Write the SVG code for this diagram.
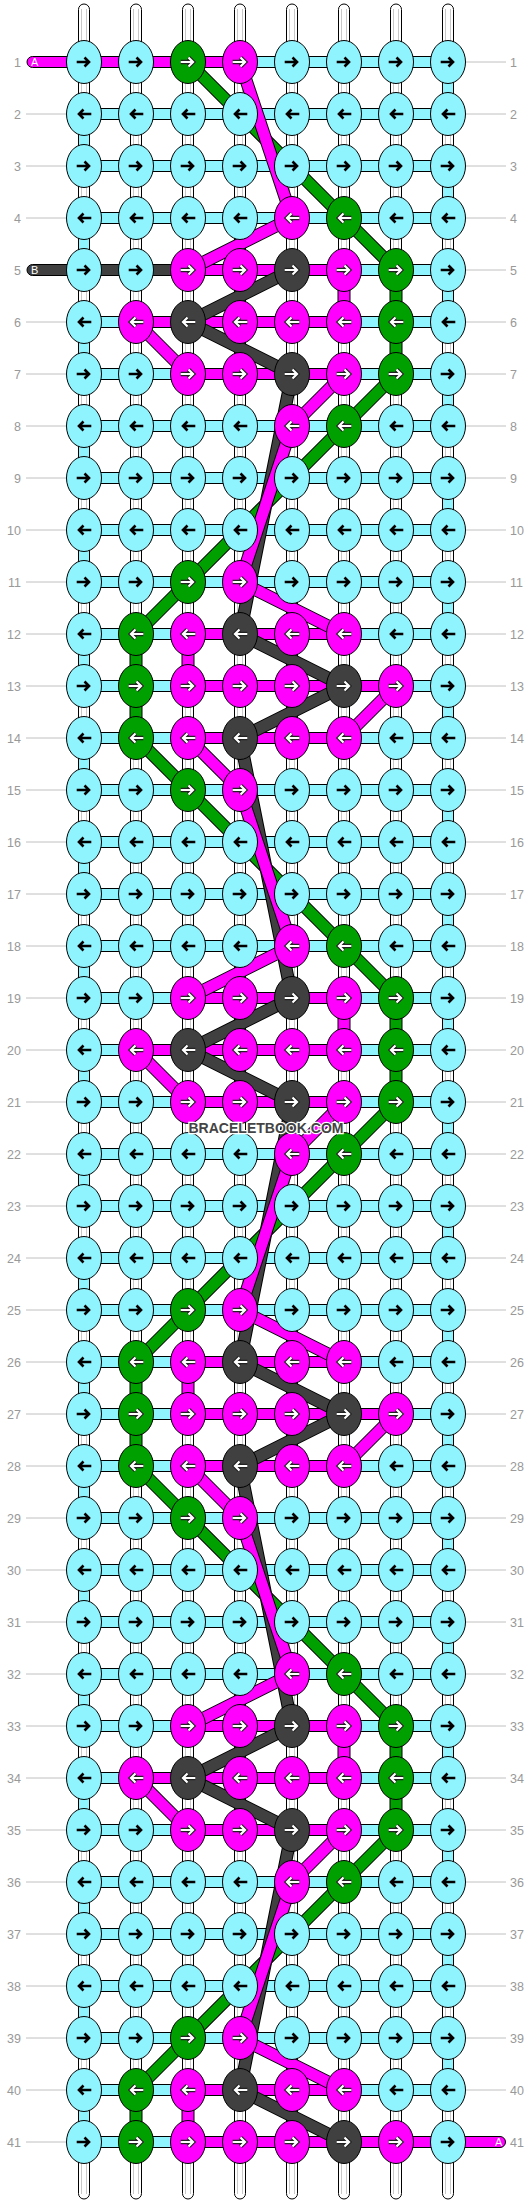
<svg xmlns="http://www.w3.org/2000/svg" width="532" height="2204" viewBox="0 0 532 2204">
<style>
.kc{fill:#90F4FE;stroke:#000;stroke-width:1}
.kg{fill:#00A000;stroke:#000;stroke-width:1}
.km{fill:#FF00FF;stroke:#000;stroke-width:1}
.kd{fill:#404040;stroke:#000;stroke-width:1}
.ab{fill:none;stroke:#000;stroke-width:2.6}
.ao{fill:none;stroke:#222;stroke-width:4.4}
.aw{fill:none;stroke:#fff;stroke-width:2.2}
.warp{fill:#fff;stroke:#000;stroke-width:1}
.wl{fill:none;stroke:#c8c8c8;stroke-width:1}
.hc{fill:#90F4FE;stroke:#000;stroke-width:1}
.hm{fill:#FF00FF;stroke:#000;stroke-width:1}
.hd{fill:#404040;stroke:#000;stroke-width:1}
.lo{fill:none;stroke:#000;stroke-width:13;stroke-linejoin:round}
.lg{fill:none;stroke:#00A000;stroke-width:11;stroke-linejoin:round}
.ld{fill:none;stroke:#404040;stroke-width:11;stroke-linejoin:round}
.lm{fill:none;stroke:#FF00FF;stroke-width:11;stroke-linejoin:round}
.gl{fill:none;stroke:#c0c0c0;stroke-width:1}
.nl{font-family:"Liberation Sans",Arial,sans-serif;font-size:12.5px;fill:#999}
.sl{font-family:"Liberation Sans",Arial,sans-serif;font-size:11px;fill:#fff}
.wm{font-family:"Liberation Sans",Arial,sans-serif;font-size:14.5px;font-weight:bold;fill:#444;stroke:#fff;stroke-width:2.5;paint-order:stroke}
</style>
<defs>
<g id="cR"><ellipse class="kc" rx="17.5" ry="21.5"/><path class="ab" d="M-7.3,0H5M0.5,-4.5L5,0L0.5,4.5"/></g>
<g id="cL"><ellipse class="kc" rx="17.5" ry="21.5"/><path class="ab" d="M7.3,0H-5M-0.5,-4.5L-5,0L-0.5,4.5"/></g>
<g id="gR"><ellipse class="kg" rx="17.5" ry="21.5"/><path class="ao" d="M-7.3,0H5M0.5,-4.5L5,0L0.5,4.5"/><path class="aw" d="M-7.3,0H5M0.5,-4.5L5,0L0.5,4.5"/></g>
<g id="gL"><ellipse class="kg" rx="17.5" ry="21.5"/><path class="ao" d="M7.3,0H-5M-0.5,-4.5L-5,0L-0.5,4.5"/><path class="aw" d="M7.3,0H-5M-0.5,-4.5L-5,0L-0.5,4.5"/></g>
<g id="mR"><ellipse class="km" rx="17.5" ry="21.5"/><path class="ao" d="M-7.3,0H5M0.5,-4.5L5,0L0.5,4.5"/><path class="aw" d="M-7.3,0H5M0.5,-4.5L5,0L0.5,4.5"/></g>
<g id="mL"><ellipse class="km" rx="17.5" ry="21.5"/><path class="ao" d="M7.3,0H-5M-0.5,-4.5L-5,0L-0.5,4.5"/><path class="aw" d="M7.3,0H-5M-0.5,-4.5L-5,0L-0.5,4.5"/></g>
<g id="dR"><ellipse class="kd" rx="17.5" ry="21.5"/><path class="ao" d="M-7.3,0H5M0.5,-4.5L5,0L0.5,4.5"/><path class="aw" d="M-7.3,0H5M0.5,-4.5L5,0L0.5,4.5"/></g>
<g id="dL"><ellipse class="kd" rx="17.5" ry="21.5"/><path class="ao" d="M7.3,0H-5M-0.5,-4.5L-5,0L-0.5,4.5"/><path class="aw" d="M7.3,0H-5M-0.5,-4.5L-5,0L-0.5,4.5"/></g>
</defs>
<rect width="532" height="2204" fill="#fff"/>
<g id="labels">
<path class="gl" d="M26,114H67M26,166H67M26,218H67M26,322H67M26,374H67M26,426H67M26,478H67M26,530H67M26,582H67M26,634H67M26,686H67M26,738H67M26,790H67M26,842H67M26,894H67M26,946H67M26,998H67M26,1050H67M26,1102H67M26,1154H67M26,1206H67M26,1258H67M26,1310H67M26,1362H67M26,1414H67M26,1466H67M26,1518H67M26,1570H67M26,1622H67M26,1674H67M26,1726H67M26,1778H67M26,1830H67M26,1882H67M26,1934H67M26,1986H67M26,2038H67M26,2090H67M26,2142H67M465,62H506M465,114H506M465,166H506M465,218H506M465,270H506M465,322H506M465,374H506M465,426H506M465,478H506M465,530H506M465,582H506M465,634H506M465,686H506M465,738H506M465,790H506M465,842H506M465,894H506M465,946H506M465,998H506M465,1050H506M465,1102H506M465,1154H506M465,1206H506M465,1258H506M465,1310H506M465,1362H506M465,1414H506M465,1466H506M465,1518H506M465,1570H506M465,1622H506M465,1674H506M465,1726H506M465,1778H506M465,1830H506M465,1882H506M465,1934H506M465,1986H506M465,2038H506M465,2090H506"/>
<g class="nl" text-anchor="end">
<text x="21" y="66.5">1</text><text x="21" y="118.5">2</text><text x="21" y="170.5">3</text><text x="21" y="222.5">4</text><text x="21" y="274.5">5</text><text x="21" y="326.5">6</text><text x="21" y="378.5">7</text><text x="21" y="430.5">8</text><text x="21" y="482.5">9</text><text x="21" y="534.5">10</text><text x="21" y="586.5">11</text><text x="21" y="638.5">12</text><text x="21" y="690.5">13</text><text x="21" y="742.5">14</text><text x="21" y="794.5">15</text><text x="21" y="846.5">16</text><text x="21" y="898.5">17</text><text x="21" y="950.5">18</text><text x="21" y="1002.5">19</text><text x="21" y="1054.5">20</text><text x="21" y="1106.5">21</text><text x="21" y="1158.5">22</text><text x="21" y="1210.5">23</text><text x="21" y="1262.5">24</text><text x="21" y="1314.5">25</text><text x="21" y="1366.5">26</text><text x="21" y="1418.5">27</text><text x="21" y="1470.5">28</text><text x="21" y="1522.5">29</text><text x="21" y="1574.5">30</text><text x="21" y="1626.5">31</text><text x="21" y="1678.5">32</text><text x="21" y="1730.5">33</text><text x="21" y="1782.5">34</text><text x="21" y="1834.5">35</text><text x="21" y="1886.5">36</text><text x="21" y="1938.5">37</text><text x="21" y="1990.5">38</text><text x="21" y="2042.5">39</text><text x="21" y="2094.5">40</text><text x="21" y="2146.5">41</text>
</g>
<g class="nl">
<text x="510" y="66.5">1</text><text x="510" y="118.5">2</text><text x="510" y="170.5">3</text><text x="510" y="222.5">4</text><text x="510" y="274.5">5</text><text x="510" y="326.5">6</text><text x="510" y="378.5">7</text><text x="510" y="430.5">8</text><text x="510" y="482.5">9</text><text x="510" y="534.5">10</text><text x="510" y="586.5">11</text><text x="510" y="638.5">12</text><text x="510" y="690.5">13</text><text x="510" y="742.5">14</text><text x="510" y="794.5">15</text><text x="510" y="846.5">16</text><text x="510" y="898.5">17</text><text x="510" y="950.5">18</text><text x="510" y="1002.5">19</text><text x="510" y="1054.5">20</text><text x="510" y="1106.5">21</text><text x="510" y="1158.5">22</text><text x="510" y="1210.5">23</text><text x="510" y="1262.5">24</text><text x="510" y="1314.5">25</text><text x="510" y="1366.5">26</text><text x="510" y="1418.5">27</text><text x="510" y="1470.5">28</text><text x="510" y="1522.5">29</text><text x="510" y="1574.5">30</text><text x="510" y="1626.5">31</text><text x="510" y="1678.5">32</text><text x="510" y="1730.5">33</text><text x="510" y="1782.5">34</text><text x="510" y="1834.5">35</text><text x="510" y="1886.5">36</text><text x="510" y="1938.5">37</text><text x="510" y="1990.5">38</text><text x="510" y="2042.5">39</text><text x="510" y="2094.5">40</text><text x="510" y="2146.5">41</text>
</g>
</g>
<g id="connectors">
<g id="warps">
<rect class="warp" x="78.5" y="4" width="11" height="2195" rx="5.5"/>
<rect class="warp" x="130.5" y="4" width="11" height="2195" rx="5.5"/>
<rect class="warp" x="182.5" y="4" width="11" height="2195" rx="5.5"/>
<rect class="warp" x="234.5" y="4" width="11" height="2195" rx="5.5"/>
<rect class="warp" x="286.5" y="4" width="11" height="2195" rx="5.5"/>
<rect class="warp" x="338.5" y="4" width="11" height="2195" rx="5.5"/>
<rect class="warp" x="390.5" y="4" width="11" height="2195" rx="5.5"/>
<rect class="warp" x="442.5" y="4" width="11" height="2195" rx="5.5"/>
<path class="wl" d="M81.5,9V2194M86.5,9V2194M133.5,9V2194M138.5,9V2194M185.5,9V2194M190.5,9V2194M237.5,9V2194M242.5,9V2194M289.5,9V2194M294.5,9V2194M341.5,9V2194M346.5,9V2194M393.5,9V2194M398.5,9V2194M445.5,9V2194M450.5,9V2194"/>
</g>
<path id="cyan-weft" class="hc" d="M84,56.5H448v11H84zM84,108.5H448v11H84zM84,160.5H448v11H84zM84,212.5H448v11H84zM84,264.5H448v11H84zM84,316.5H448v11H84zM84,368.5H448v11H84zM84,420.5H448v11H84zM84,472.5H448v11H84zM84,524.5H448v11H84zM84,576.5H448v11H84zM84,628.5H448v11H84zM84,680.5H448v11H84zM84,732.5H448v11H84zM84,784.5H448v11H84zM84,836.5H448v11H84zM84,888.5H448v11H84zM84,940.5H448v11H84zM84,992.5H448v11H84zM84,1044.5H448v11H84zM84,1096.5H448v11H84zM84,1148.5H448v11H84zM84,1200.5H448v11H84zM84,1252.5H448v11H84zM84,1304.5H448v11H84zM84,1356.5H448v11H84zM84,1408.5H448v11H84zM84,1460.5H448v11H84zM84,1512.5H448v11H84zM84,1564.5H448v11H84zM84,1616.5H448v11H84zM84,1668.5H448v11H84zM84,1720.5H448v11H84zM84,1772.5H448v11H84zM84,1824.5H448v11H84zM84,1876.5H448v11H84zM84,1928.5H448v11H84zM84,1980.5H448v11H84zM84,2032.5H448v11H84zM84,2084.5H448v11H84zM84,2136.5H448v11H84z
M442.5,62h11v52h-11zM78.5,114h11v52h-11zM442.5,166h11v52h-11zM78.5,218h11v52h-11zM442.5,270h11v52h-11zM78.5,322h11v52h-11zM442.5,374h11v52h-11zM78.5,426h11v52h-11zM442.5,478h11v52h-11zM78.5,530h11v52h-11zM442.5,582h11v52h-11zM78.5,634h11v52h-11zM442.5,686h11v52h-11zM78.5,738h11v52h-11zM442.5,790h11v52h-11zM78.5,842h11v52h-11zM442.5,894h11v52h-11zM78.5,946h11v52h-11zM442.5,998h11v52h-11zM78.5,1050h11v52h-11zM442.5,1102h11v52h-11zM78.5,1154h11v52h-11zM442.5,1206h11v52h-11zM78.5,1258h11v52h-11zM442.5,1310h11v52h-11zM78.5,1362h11v52h-11zM442.5,1414h11v52h-11zM78.5,1466h11v52h-11zM442.5,1518h11v52h-11zM78.5,1570h11v52h-11zM442.5,1622h11v52h-11zM78.5,1674h11v52h-11zM442.5,1726h11v52h-11zM78.5,1778h11v52h-11zM442.5,1830h11v52h-11zM78.5,1882h11v52h-11zM442.5,1934h11v52h-11zM78.5,1986h11v52h-11zM442.5,2038h11v52h-11zM78.5,2090h11v52h-11z"/>
<path id="magenta-rows" class="hm" d="M32.5,56.5H240v11H32.5a5.5,5.5 0 0 1 0,-11zM188,264.5H344v11H188zM136,316.5H344v11H136zM188,368.5H344v11H188zM188,628.5H344v11H188zM188,680.5H396v11H188zM188,732.5H344v11H188zM188,992.5H344v11H188zM136,1044.5H344v11H136zM188,1096.5H344v11H188zM188,1356.5H344v11H188zM188,1408.5H396v11H188zM188,1460.5H344v11H188zM188,1720.5H344v11H188zM136,1772.5H344v11H136zM188,1824.5H344v11H188zM188,2084.5H344v11H188zM188,2136.5H500a5.5,5.5 0 0 1 0,11H188z"/>
<path id="dark-row" class="hd" d="M32.5,264.5H188v11H32.5a5.5,5.5 0 0 1 0,-11z"/>
<g id="green-string">
<path class="lo" d="M188,62L344,218L396,270L396,374L344,426L188,582L136,634L136,738L188,790L344,946L396,998L396,1102L344,1154L188,1310L136,1362L136,1466L188,1518L344,1674L396,1726L396,1830L344,1882L188,2038L136,2090L136,2142"/>
<path class="lg" d="M188,62L344,218L396,270L396,374L344,426L188,582L136,634L136,738L188,790L344,946L396,998L396,1102L344,1154L188,1310L136,1362L136,1466L188,1518L344,1674L396,1726L396,1830L344,1882L188,2038L136,2090L136,2142"/>
</g>
<g id="dark-string">
<path class="lo" d="M292,270L188,322L292,374L240,634L344,686L240,738L292,998L188,1050L292,1102L240,1362L344,1414L240,1466L292,1726L188,1778L292,1830L240,2090L344,2142"/>
<path class="ld" d="M292,270L188,322L292,374L240,634L344,686L240,738L292,998L188,1050L292,1102L240,1362L344,1414L240,1466L292,1726L188,1778L292,1830L240,2090L344,2142"/>
</g>
<g id="magenta-string">
<path class="lo" d="M240,62L292,218L188,270M344,270L344,322M136,322L188,374M344,374L292,426L240,582L344,634M188,634L188,686M396,686L344,738M188,738L240,790L292,946L188,998M344,998L344,1050M136,1050L188,1102M344,1102L292,1154L240,1310L344,1362M188,1362L188,1414M396,1414L344,1466M188,1466L240,1518L292,1674L188,1726M344,1726L344,1778M136,1778L188,1830M344,1830L292,1882L240,2038L344,2090M188,2090L188,2142"/>
<path class="lm" d="M240,62L292,218L188,270M344,270L344,322M136,322L188,374M344,374L292,426L240,582L344,634M188,634L188,686M396,686L344,738M188,738L240,790L292,946L188,998M344,998L344,1050M136,1050L188,1102M344,1102L292,1154L240,1310L344,1362M188,1362L188,1414M396,1414L344,1466M188,1466L240,1518L292,1674L188,1726M344,1726L344,1778M136,1778L188,1830M344,1830L292,1882L240,2038L344,2090M188,2090L188,2142"/>
</g>
<text class="sl" x="31" y="66">A</text>
<text class="sl" x="31" y="274">B</text>
<text class="sl" x="495" y="2146">A</text>
</g>
<g id="knots">
<g id="k1-1"><use href="#cR" x="84" y="62"/></g><g id="k1-2"><use href="#cR" x="136" y="62"/></g><g id="k1-3"><use href="#gR" x="188" y="62"/></g><g id="k1-4"><use href="#mR" x="240" y="62"/></g><g id="k1-5"><use href="#cR" x="292" y="62"/></g><g id="k1-6"><use href="#cR" x="344" y="62"/></g><g id="k1-7"><use href="#cR" x="396" y="62"/></g><g id="k1-8"><use href="#cR" x="448" y="62"/></g>
<g id="k2-1"><use href="#cL" x="84" y="114"/></g><g id="k2-2"><use href="#cL" x="136" y="114"/></g><g id="k2-3"><use href="#cL" x="188" y="114"/></g><g id="k2-4"><use href="#cL" x="240" y="114"/></g><g id="k2-5"><use href="#cL" x="292" y="114"/></g><g id="k2-6"><use href="#cL" x="344" y="114"/></g><g id="k2-7"><use href="#cL" x="396" y="114"/></g><g id="k2-8"><use href="#cL" x="448" y="114"/></g>
<g id="k3-1"><use href="#cR" x="84" y="166"/></g><g id="k3-2"><use href="#cR" x="136" y="166"/></g><g id="k3-3"><use href="#cR" x="188" y="166"/></g><g id="k3-4"><use href="#cR" x="240" y="166"/></g><g id="k3-5"><use href="#cR" x="292" y="166"/></g><g id="k3-6"><use href="#cR" x="344" y="166"/></g><g id="k3-7"><use href="#cR" x="396" y="166"/></g><g id="k3-8"><use href="#cR" x="448" y="166"/></g>
<g id="k4-1"><use href="#cL" x="84" y="218"/></g><g id="k4-2"><use href="#cL" x="136" y="218"/></g><g id="k4-3"><use href="#cL" x="188" y="218"/></g><g id="k4-4"><use href="#cL" x="240" y="218"/></g><g id="k4-5"><use href="#mL" x="292" y="218"/></g><g id="k4-6"><use href="#gL" x="344" y="218"/></g><g id="k4-7"><use href="#cL" x="396" y="218"/></g><g id="k4-8"><use href="#cL" x="448" y="218"/></g>
<g id="k5-1"><use href="#cR" x="84" y="270"/></g><g id="k5-2"><use href="#cR" x="136" y="270"/></g><g id="k5-3"><use href="#mR" x="188" y="270"/></g><g id="k5-4"><use href="#mR" x="240" y="270"/></g><g id="k5-5"><use href="#dR" x="292" y="270"/></g><g id="k5-6"><use href="#mR" x="344" y="270"/></g><g id="k5-7"><use href="#gR" x="396" y="270"/></g><g id="k5-8"><use href="#cR" x="448" y="270"/></g>
<g id="k6-1"><use href="#cL" x="84" y="322"/></g><g id="k6-2"><use href="#mL" x="136" y="322"/></g><g id="k6-3"><use href="#dL" x="188" y="322"/></g><g id="k6-4"><use href="#mL" x="240" y="322"/></g><g id="k6-5"><use href="#mL" x="292" y="322"/></g><g id="k6-6"><use href="#mL" x="344" y="322"/></g><g id="k6-7"><use href="#gL" x="396" y="322"/></g><g id="k6-8"><use href="#cL" x="448" y="322"/></g>
<g id="k7-1"><use href="#cR" x="84" y="374"/></g><g id="k7-2"><use href="#cR" x="136" y="374"/></g><g id="k7-3"><use href="#mR" x="188" y="374"/></g><g id="k7-4"><use href="#mR" x="240" y="374"/></g><g id="k7-5"><use href="#dR" x="292" y="374"/></g><g id="k7-6"><use href="#mR" x="344" y="374"/></g><g id="k7-7"><use href="#gR" x="396" y="374"/></g><g id="k7-8"><use href="#cR" x="448" y="374"/></g>
<g id="k8-1"><use href="#cL" x="84" y="426"/></g><g id="k8-2"><use href="#cL" x="136" y="426"/></g><g id="k8-3"><use href="#cL" x="188" y="426"/></g><g id="k8-4"><use href="#cL" x="240" y="426"/></g><g id="k8-5"><use href="#mL" x="292" y="426"/></g><g id="k8-6"><use href="#gL" x="344" y="426"/></g><g id="k8-7"><use href="#cL" x="396" y="426"/></g><g id="k8-8"><use href="#cL" x="448" y="426"/></g>
<g id="k9-1"><use href="#cR" x="84" y="478"/></g><g id="k9-2"><use href="#cR" x="136" y="478"/></g><g id="k9-3"><use href="#cR" x="188" y="478"/></g><g id="k9-4"><use href="#cR" x="240" y="478"/></g><g id="k9-5"><use href="#cR" x="292" y="478"/></g><g id="k9-6"><use href="#cR" x="344" y="478"/></g><g id="k9-7"><use href="#cR" x="396" y="478"/></g><g id="k9-8"><use href="#cR" x="448" y="478"/></g>
<g id="k10-1"><use href="#cL" x="84" y="530"/></g><g id="k10-2"><use href="#cL" x="136" y="530"/></g><g id="k10-3"><use href="#cL" x="188" y="530"/></g><g id="k10-4"><use href="#cL" x="240" y="530"/></g><g id="k10-5"><use href="#cL" x="292" y="530"/></g><g id="k10-6"><use href="#cL" x="344" y="530"/></g><g id="k10-7"><use href="#cL" x="396" y="530"/></g><g id="k10-8"><use href="#cL" x="448" y="530"/></g>
<g id="k11-1"><use href="#cR" x="84" y="582"/></g><g id="k11-2"><use href="#cR" x="136" y="582"/></g><g id="k11-3"><use href="#gR" x="188" y="582"/></g><g id="k11-4"><use href="#mR" x="240" y="582"/></g><g id="k11-5"><use href="#cR" x="292" y="582"/></g><g id="k11-6"><use href="#cR" x="344" y="582"/></g><g id="k11-7"><use href="#cR" x="396" y="582"/></g><g id="k11-8"><use href="#cR" x="448" y="582"/></g>
<g id="k12-1"><use href="#cL" x="84" y="634"/></g><g id="k12-2"><use href="#gL" x="136" y="634"/></g><g id="k12-3"><use href="#mL" x="188" y="634"/></g><g id="k12-4"><use href="#dL" x="240" y="634"/></g><g id="k12-5"><use href="#mL" x="292" y="634"/></g><g id="k12-6"><use href="#mL" x="344" y="634"/></g><g id="k12-7"><use href="#cL" x="396" y="634"/></g><g id="k12-8"><use href="#cL" x="448" y="634"/></g>
<g id="k13-1"><use href="#cR" x="84" y="686"/></g><g id="k13-2"><use href="#gR" x="136" y="686"/></g><g id="k13-3"><use href="#mR" x="188" y="686"/></g><g id="k13-4"><use href="#mR" x="240" y="686"/></g><g id="k13-5"><use href="#mR" x="292" y="686"/></g><g id="k13-6"><use href="#dR" x="344" y="686"/></g><g id="k13-7"><use href="#mR" x="396" y="686"/></g><g id="k13-8"><use href="#cR" x="448" y="686"/></g>
<g id="k14-1"><use href="#cL" x="84" y="738"/></g><g id="k14-2"><use href="#gL" x="136" y="738"/></g><g id="k14-3"><use href="#mL" x="188" y="738"/></g><g id="k14-4"><use href="#dL" x="240" y="738"/></g><g id="k14-5"><use href="#mL" x="292" y="738"/></g><g id="k14-6"><use href="#mL" x="344" y="738"/></g><g id="k14-7"><use href="#cL" x="396" y="738"/></g><g id="k14-8"><use href="#cL" x="448" y="738"/></g>
<g id="k15-1"><use href="#cR" x="84" y="790"/></g><g id="k15-2"><use href="#cR" x="136" y="790"/></g><g id="k15-3"><use href="#gR" x="188" y="790"/></g><g id="k15-4"><use href="#mR" x="240" y="790"/></g><g id="k15-5"><use href="#cR" x="292" y="790"/></g><g id="k15-6"><use href="#cR" x="344" y="790"/></g><g id="k15-7"><use href="#cR" x="396" y="790"/></g><g id="k15-8"><use href="#cR" x="448" y="790"/></g>
<g id="k16-1"><use href="#cL" x="84" y="842"/></g><g id="k16-2"><use href="#cL" x="136" y="842"/></g><g id="k16-3"><use href="#cL" x="188" y="842"/></g><g id="k16-4"><use href="#cL" x="240" y="842"/></g><g id="k16-5"><use href="#cL" x="292" y="842"/></g><g id="k16-6"><use href="#cL" x="344" y="842"/></g><g id="k16-7"><use href="#cL" x="396" y="842"/></g><g id="k16-8"><use href="#cL" x="448" y="842"/></g>
<g id="k17-1"><use href="#cR" x="84" y="894"/></g><g id="k17-2"><use href="#cR" x="136" y="894"/></g><g id="k17-3"><use href="#cR" x="188" y="894"/></g><g id="k17-4"><use href="#cR" x="240" y="894"/></g><g id="k17-5"><use href="#cR" x="292" y="894"/></g><g id="k17-6"><use href="#cR" x="344" y="894"/></g><g id="k17-7"><use href="#cR" x="396" y="894"/></g><g id="k17-8"><use href="#cR" x="448" y="894"/></g>
<g id="k18-1"><use href="#cL" x="84" y="946"/></g><g id="k18-2"><use href="#cL" x="136" y="946"/></g><g id="k18-3"><use href="#cL" x="188" y="946"/></g><g id="k18-4"><use href="#cL" x="240" y="946"/></g><g id="k18-5"><use href="#mL" x="292" y="946"/></g><g id="k18-6"><use href="#gL" x="344" y="946"/></g><g id="k18-7"><use href="#cL" x="396" y="946"/></g><g id="k18-8"><use href="#cL" x="448" y="946"/></g>
<g id="k19-1"><use href="#cR" x="84" y="998"/></g><g id="k19-2"><use href="#cR" x="136" y="998"/></g><g id="k19-3"><use href="#mR" x="188" y="998"/></g><g id="k19-4"><use href="#mR" x="240" y="998"/></g><g id="k19-5"><use href="#dR" x="292" y="998"/></g><g id="k19-6"><use href="#mR" x="344" y="998"/></g><g id="k19-7"><use href="#gR" x="396" y="998"/></g><g id="k19-8"><use href="#cR" x="448" y="998"/></g>
<g id="k20-1"><use href="#cL" x="84" y="1050"/></g><g id="k20-2"><use href="#mL" x="136" y="1050"/></g><g id="k20-3"><use href="#dL" x="188" y="1050"/></g><g id="k20-4"><use href="#mL" x="240" y="1050"/></g><g id="k20-5"><use href="#mL" x="292" y="1050"/></g><g id="k20-6"><use href="#mL" x="344" y="1050"/></g><g id="k20-7"><use href="#gL" x="396" y="1050"/></g><g id="k20-8"><use href="#cL" x="448" y="1050"/></g>
<g id="k21-1"><use href="#cR" x="84" y="1102"/></g><g id="k21-2"><use href="#cR" x="136" y="1102"/></g><g id="k21-3"><use href="#mR" x="188" y="1102"/></g><g id="k21-4"><use href="#mR" x="240" y="1102"/></g><g id="k21-5"><use href="#dR" x="292" y="1102"/></g><g id="k21-6"><use href="#mR" x="344" y="1102"/></g><g id="k21-7"><use href="#gR" x="396" y="1102"/></g><g id="k21-8"><use href="#cR" x="448" y="1102"/></g>
<g id="k22-1"><use href="#cL" x="84" y="1154"/></g><g id="k22-2"><use href="#cL" x="136" y="1154"/></g><g id="k22-3"><use href="#cL" x="188" y="1154"/></g><g id="k22-4"><use href="#cL" x="240" y="1154"/></g><g id="k22-5"><use href="#mL" x="292" y="1154"/></g><g id="k22-6"><use href="#gL" x="344" y="1154"/></g><g id="k22-7"><use href="#cL" x="396" y="1154"/></g><g id="k22-8"><use href="#cL" x="448" y="1154"/></g>
<g id="k23-1"><use href="#cR" x="84" y="1206"/></g><g id="k23-2"><use href="#cR" x="136" y="1206"/></g><g id="k23-3"><use href="#cR" x="188" y="1206"/></g><g id="k23-4"><use href="#cR" x="240" y="1206"/></g><g id="k23-5"><use href="#cR" x="292" y="1206"/></g><g id="k23-6"><use href="#cR" x="344" y="1206"/></g><g id="k23-7"><use href="#cR" x="396" y="1206"/></g><g id="k23-8"><use href="#cR" x="448" y="1206"/></g>
<g id="k24-1"><use href="#cL" x="84" y="1258"/></g><g id="k24-2"><use href="#cL" x="136" y="1258"/></g><g id="k24-3"><use href="#cL" x="188" y="1258"/></g><g id="k24-4"><use href="#cL" x="240" y="1258"/></g><g id="k24-5"><use href="#cL" x="292" y="1258"/></g><g id="k24-6"><use href="#cL" x="344" y="1258"/></g><g id="k24-7"><use href="#cL" x="396" y="1258"/></g><g id="k24-8"><use href="#cL" x="448" y="1258"/></g>
<g id="k25-1"><use href="#cR" x="84" y="1310"/></g><g id="k25-2"><use href="#cR" x="136" y="1310"/></g><g id="k25-3"><use href="#gR" x="188" y="1310"/></g><g id="k25-4"><use href="#mR" x="240" y="1310"/></g><g id="k25-5"><use href="#cR" x="292" y="1310"/></g><g id="k25-6"><use href="#cR" x="344" y="1310"/></g><g id="k25-7"><use href="#cR" x="396" y="1310"/></g><g id="k25-8"><use href="#cR" x="448" y="1310"/></g>
<g id="k26-1"><use href="#cL" x="84" y="1362"/></g><g id="k26-2"><use href="#gL" x="136" y="1362"/></g><g id="k26-3"><use href="#mL" x="188" y="1362"/></g><g id="k26-4"><use href="#dL" x="240" y="1362"/></g><g id="k26-5"><use href="#mL" x="292" y="1362"/></g><g id="k26-6"><use href="#mL" x="344" y="1362"/></g><g id="k26-7"><use href="#cL" x="396" y="1362"/></g><g id="k26-8"><use href="#cL" x="448" y="1362"/></g>
<g id="k27-1"><use href="#cR" x="84" y="1414"/></g><g id="k27-2"><use href="#gR" x="136" y="1414"/></g><g id="k27-3"><use href="#mR" x="188" y="1414"/></g><g id="k27-4"><use href="#mR" x="240" y="1414"/></g><g id="k27-5"><use href="#mR" x="292" y="1414"/></g><g id="k27-6"><use href="#dR" x="344" y="1414"/></g><g id="k27-7"><use href="#mR" x="396" y="1414"/></g><g id="k27-8"><use href="#cR" x="448" y="1414"/></g>
<g id="k28-1"><use href="#cL" x="84" y="1466"/></g><g id="k28-2"><use href="#gL" x="136" y="1466"/></g><g id="k28-3"><use href="#mL" x="188" y="1466"/></g><g id="k28-4"><use href="#dL" x="240" y="1466"/></g><g id="k28-5"><use href="#mL" x="292" y="1466"/></g><g id="k28-6"><use href="#mL" x="344" y="1466"/></g><g id="k28-7"><use href="#cL" x="396" y="1466"/></g><g id="k28-8"><use href="#cL" x="448" y="1466"/></g>
<g id="k29-1"><use href="#cR" x="84" y="1518"/></g><g id="k29-2"><use href="#cR" x="136" y="1518"/></g><g id="k29-3"><use href="#gR" x="188" y="1518"/></g><g id="k29-4"><use href="#mR" x="240" y="1518"/></g><g id="k29-5"><use href="#cR" x="292" y="1518"/></g><g id="k29-6"><use href="#cR" x="344" y="1518"/></g><g id="k29-7"><use href="#cR" x="396" y="1518"/></g><g id="k29-8"><use href="#cR" x="448" y="1518"/></g>
<g id="k30-1"><use href="#cL" x="84" y="1570"/></g><g id="k30-2"><use href="#cL" x="136" y="1570"/></g><g id="k30-3"><use href="#cL" x="188" y="1570"/></g><g id="k30-4"><use href="#cL" x="240" y="1570"/></g><g id="k30-5"><use href="#cL" x="292" y="1570"/></g><g id="k30-6"><use href="#cL" x="344" y="1570"/></g><g id="k30-7"><use href="#cL" x="396" y="1570"/></g><g id="k30-8"><use href="#cL" x="448" y="1570"/></g>
<g id="k31-1"><use href="#cR" x="84" y="1622"/></g><g id="k31-2"><use href="#cR" x="136" y="1622"/></g><g id="k31-3"><use href="#cR" x="188" y="1622"/></g><g id="k31-4"><use href="#cR" x="240" y="1622"/></g><g id="k31-5"><use href="#cR" x="292" y="1622"/></g><g id="k31-6"><use href="#cR" x="344" y="1622"/></g><g id="k31-7"><use href="#cR" x="396" y="1622"/></g><g id="k31-8"><use href="#cR" x="448" y="1622"/></g>
<g id="k32-1"><use href="#cL" x="84" y="1674"/></g><g id="k32-2"><use href="#cL" x="136" y="1674"/></g><g id="k32-3"><use href="#cL" x="188" y="1674"/></g><g id="k32-4"><use href="#cL" x="240" y="1674"/></g><g id="k32-5"><use href="#mL" x="292" y="1674"/></g><g id="k32-6"><use href="#gL" x="344" y="1674"/></g><g id="k32-7"><use href="#cL" x="396" y="1674"/></g><g id="k32-8"><use href="#cL" x="448" y="1674"/></g>
<g id="k33-1"><use href="#cR" x="84" y="1726"/></g><g id="k33-2"><use href="#cR" x="136" y="1726"/></g><g id="k33-3"><use href="#mR" x="188" y="1726"/></g><g id="k33-4"><use href="#mR" x="240" y="1726"/></g><g id="k33-5"><use href="#dR" x="292" y="1726"/></g><g id="k33-6"><use href="#mR" x="344" y="1726"/></g><g id="k33-7"><use href="#gR" x="396" y="1726"/></g><g id="k33-8"><use href="#cR" x="448" y="1726"/></g>
<g id="k34-1"><use href="#cL" x="84" y="1778"/></g><g id="k34-2"><use href="#mL" x="136" y="1778"/></g><g id="k34-3"><use href="#dL" x="188" y="1778"/></g><g id="k34-4"><use href="#mL" x="240" y="1778"/></g><g id="k34-5"><use href="#mL" x="292" y="1778"/></g><g id="k34-6"><use href="#mL" x="344" y="1778"/></g><g id="k34-7"><use href="#gL" x="396" y="1778"/></g><g id="k34-8"><use href="#cL" x="448" y="1778"/></g>
<g id="k35-1"><use href="#cR" x="84" y="1830"/></g><g id="k35-2"><use href="#cR" x="136" y="1830"/></g><g id="k35-3"><use href="#mR" x="188" y="1830"/></g><g id="k35-4"><use href="#mR" x="240" y="1830"/></g><g id="k35-5"><use href="#dR" x="292" y="1830"/></g><g id="k35-6"><use href="#mR" x="344" y="1830"/></g><g id="k35-7"><use href="#gR" x="396" y="1830"/></g><g id="k35-8"><use href="#cR" x="448" y="1830"/></g>
<g id="k36-1"><use href="#cL" x="84" y="1882"/></g><g id="k36-2"><use href="#cL" x="136" y="1882"/></g><g id="k36-3"><use href="#cL" x="188" y="1882"/></g><g id="k36-4"><use href="#cL" x="240" y="1882"/></g><g id="k36-5"><use href="#mL" x="292" y="1882"/></g><g id="k36-6"><use href="#gL" x="344" y="1882"/></g><g id="k36-7"><use href="#cL" x="396" y="1882"/></g><g id="k36-8"><use href="#cL" x="448" y="1882"/></g>
<g id="k37-1"><use href="#cR" x="84" y="1934"/></g><g id="k37-2"><use href="#cR" x="136" y="1934"/></g><g id="k37-3"><use href="#cR" x="188" y="1934"/></g><g id="k37-4"><use href="#cR" x="240" y="1934"/></g><g id="k37-5"><use href="#cR" x="292" y="1934"/></g><g id="k37-6"><use href="#cR" x="344" y="1934"/></g><g id="k37-7"><use href="#cR" x="396" y="1934"/></g><g id="k37-8"><use href="#cR" x="448" y="1934"/></g>
<g id="k38-1"><use href="#cL" x="84" y="1986"/></g><g id="k38-2"><use href="#cL" x="136" y="1986"/></g><g id="k38-3"><use href="#cL" x="188" y="1986"/></g><g id="k38-4"><use href="#cL" x="240" y="1986"/></g><g id="k38-5"><use href="#cL" x="292" y="1986"/></g><g id="k38-6"><use href="#cL" x="344" y="1986"/></g><g id="k38-7"><use href="#cL" x="396" y="1986"/></g><g id="k38-8"><use href="#cL" x="448" y="1986"/></g>
<g id="k39-1"><use href="#cR" x="84" y="2038"/></g><g id="k39-2"><use href="#cR" x="136" y="2038"/></g><g id="k39-3"><use href="#gR" x="188" y="2038"/></g><g id="k39-4"><use href="#mR" x="240" y="2038"/></g><g id="k39-5"><use href="#cR" x="292" y="2038"/></g><g id="k39-6"><use href="#cR" x="344" y="2038"/></g><g id="k39-7"><use href="#cR" x="396" y="2038"/></g><g id="k39-8"><use href="#cR" x="448" y="2038"/></g>
<g id="k40-1"><use href="#cL" x="84" y="2090"/></g><g id="k40-2"><use href="#gL" x="136" y="2090"/></g><g id="k40-3"><use href="#mL" x="188" y="2090"/></g><g id="k40-4"><use href="#dL" x="240" y="2090"/></g><g id="k40-5"><use href="#mL" x="292" y="2090"/></g><g id="k40-6"><use href="#mL" x="344" y="2090"/></g><g id="k40-7"><use href="#cL" x="396" y="2090"/></g><g id="k40-8"><use href="#cL" x="448" y="2090"/></g>
<g id="k41-1"><use href="#cR" x="84" y="2142"/></g><g id="k41-2"><use href="#gR" x="136" y="2142"/></g><g id="k41-3"><use href="#mR" x="188" y="2142"/></g><g id="k41-4"><use href="#mR" x="240" y="2142"/></g><g id="k41-5"><use href="#mR" x="292" y="2142"/></g><g id="k41-6"><use href="#dR" x="344" y="2142"/></g><g id="k41-7"><use href="#mR" x="396" y="2142"/></g><g id="k41-8"><use href="#cR" x="448" y="2142"/></g>
</g>
<text class="wm" x="266" y="1133" text-anchor="middle" textLength="155" lengthAdjust="spacingAndGlyphs">BRACELETBOOK.COM</text>
</svg>
